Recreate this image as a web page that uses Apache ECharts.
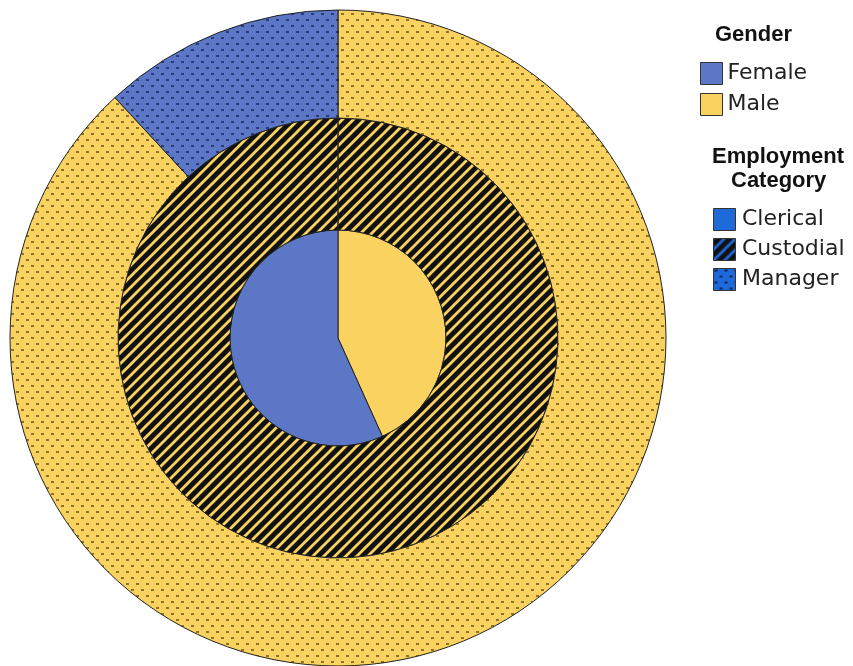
<!DOCTYPE html>
<html>
<head>
<meta charset="utf-8">
<script src="https://cdn.jsdelivr.net/npm/echarts@6/dist/echarts.min.js"></script>
<style>
  html, body { margin: 0; padding: 0; background: #fff; }
  #main { width: 853px; height: 666px; }
</style>
</head>
<body>
<div id="main"></div>
<script>
// data (Employee data: counts by category and gender)
var genders = ['Male', 'Female'];
var categories = ['Clerical', 'Custodial', 'Manager'];
var clericalCounts = [157, 206];
var custodialCounts = [27, 0];
var managerCounts = [74, 10];

var BLUE = '#5b77c6';
var YELLOW = '#f9d25f';
var CAT_BLUE = '#1e6ad8';

// small canvas tiles used as fill patterns
function dotTile(bg, dot) {
  var c = document.createElement('canvas');
  c.width = 10; c.height = 12;
  var g = c.getContext('2d');
  g.fillStyle = bg;
  g.fillRect(0, 0, 10, 12);
  g.fillStyle = dot;
  g.fillRect(1, 1, 3, 2);
  g.fillRect(6, 7, 3, 2);
  return { image: c, repeat: 'repeat' };
}

function stripeTile(bg, line) {
  var s = 11;
  var c = document.createElement('canvas');
  c.width = s; c.height = s;
  var g = c.getContext('2d');
  g.fillStyle = bg;
  g.fillRect(0, 0, s, s);
  g.strokeStyle = line;
  g.lineWidth = 2.8;
  g.beginPath();
  g.moveTo(-2, s + 2); g.lineTo(s + 2, -2);
  g.moveTo(-2, 2); g.lineTo(2, -2);
  g.moveTo(s - 2, s + 2); g.lineTo(s + 2, s - 2);
  g.stroke();
  return { image: c, repeat: 'repeat' };
}

var fills = {
  Clerical: { Male: YELLOW, Female: BLUE },
  Custodial: { Male: stripeTile('#111', YELLOW), Female: stripeTile('#111', BLUE) },
  Manager: { Male: dotTile(YELLOW, 'rgba(70,50,0,0.6)'), Female: dotTile(BLUE, 'rgba(10,20,70,0.6)') }
};

function ring(name, counts, radius) {
  return {
    name: name,
    type: 'pie',
    center: [338, 338],
    radius: radius,
    startAngle: 90,
    clockwise: true,
    silent: true,
    label: { show: false },
    labelLine: { show: false },
    emphasis: { disabled: true },
    itemStyle: { borderColor: '#222', borderWidth: 1 },
    data: genders.map(function (g, i) {
      return { name: g, value: counts[i], itemStyle: { color: fills[name][g] } };
    })
  };
}

var chart = echarts.init(document.getElementById('main'));

var titleFont = { fontFamily: 'Liberation Sans', fontWeight: 'bold', fontSize: 22, fill: '#111' };
var labelFont = { fontFamily: 'DejaVu Sans', fontSize: 22, fill: '#222' };

var catSwatches = {
  Clerical: CAT_BLUE,
  Custodial: stripeTile('#111', CAT_BLUE),
  Manager: dotTile(CAT_BLUE, 'rgba(0,20,70,0.8)')
};

var graphics = [
  { type: 'text', left: 715, top: 24, style: Object.assign({ text: 'Gender' }, titleFont) },
  { type: 'text', left: 712, top: 146, style: Object.assign({ text: 'Employment' }, titleFont) },
  { type: 'text', left: 731, top: 170, style: Object.assign({ text: 'Category' }, titleFont) }
];
categories.forEach(function (c, i) {
  graphics.push({
    type: 'rect', left: 713, top: 208 + i * 30,
    shape: { width: 22, height: 22 },
    style: { fill: catSwatches[c], stroke: '#333', lineWidth: 1 }
  });
  graphics.push({
    type: 'text', left: 742, top: 208 + i * 30,
    style: Object.assign({ text: c }, labelFont)
  });
});

chart.setOption({
  animation: false,
  legend: {
    orient: 'vertical',
    left: 700,
    top: 62,
    padding: 0,
    itemWidth: 22,
    itemHeight: 22,
    itemGap: 8,
    icon: 'rect',
    selectedMode: false,
    textStyle: { fontFamily: 'DejaVu Sans', fontSize: 22, color: '#222' },
    data: [
      { name: 'Female', itemStyle: { color: BLUE, borderColor: '#333', borderWidth: 1 } },
      { name: 'Male', itemStyle: { color: YELLOW, borderColor: '#333', borderWidth: 1 } }
    ]
  },
  graphic: graphics,
  series: [
    ring('Clerical', clericalCounts, [0, 108]),
    ring('Custodial', custodialCounts, [108, 220]),
    ring('Manager', managerCounts, [220, 328])
  ]
});
</script>
</body>
</html>
